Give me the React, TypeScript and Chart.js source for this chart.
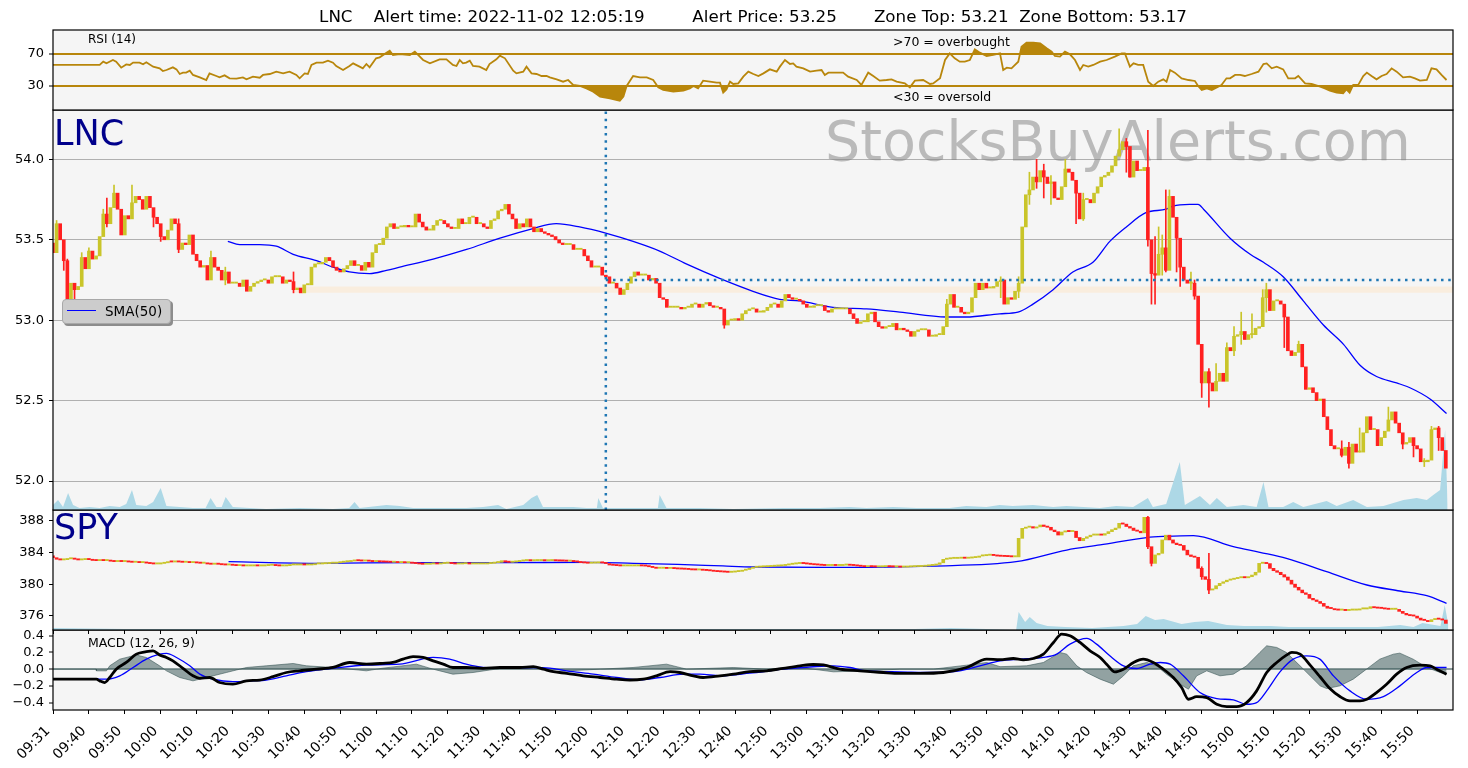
import React, { useEffect, useRef } from 'react';
import { Chart, registerables } from 'chart.js';

Chart.register(...registerables);

const FONT = "'DejaVu Sans', 'Liberation Sans', sans-serif";
Chart.defaults.font.family = FONT;
Chart.defaults.color = '#000';

// ---------------- data ----------------
const TITLE = 'LNC    Alert time: 2022-11-02 12:05:19         Alert Price: 53.25       Zone Top: 53.21  Zone Bottom: 53.17';
const X_MIN = 0;
const X_MAX = 390;
const tickBars = [0, 10, 20, 30, 40, 50, 60, 70, 80, 90, 100, 110, 120, 130, 140, 150, 160, 170, 180, 190, 200, 210, 220, 230, 240, 250, 260, 270, 280, 290, 300, 310, 320, 330, 340, 350, 360, 370, 380];
const tickLabels = ['09:31', '09:40', '09:50', '10:00', '10:10', '10:20', '10:30', '10:40', '10:50', '11:00', '11:10', '11:20', '11:30', '11:40', '11:50', '12:00', '12:10', '12:20', '12:30', '12:40', '12:50', '13:00', '13:10', '13:20', '13:30', '13:40', '13:50', '14:00', '14:10', '14:20', '14:30', '14:40', '14:50', '15:00', '15:10', '15:20', '15:30', '15:40', '15:50'];

const alertBar = 154;
const alertPrice = 53.25;
const zoneStartBar = 67;
const zoneTop = 53.21;
const zoneBottom = 53.17;

const lncOpen0 = 53.48;
const lncClose = [
  53.42, 53.60, 53.50, 53.37, 53.11, 53.23, 53.19, 53.21, 53.39, 53.32,
  53.43, 53.38, 53.40, 53.52, 53.66, 53.60, 53.70, 53.79, 53.69, 53.53,
  53.65, 53.63, 53.73, 53.77, 53.75, 53.69, 53.77, 53.70, 53.64, 53.60,
  53.52, 53.50, 53.56, 53.63, 53.60, 53.44, 53.48, 53.47, 53.53, 53.41,
  53.37, 53.33, 53.34, 53.25, 53.39, 53.33, 53.31, 53.25, 53.30, 53.23,
  53.23, 53.23, 53.21, 53.25, 53.18, 53.21, 53.23, 53.24, 53.25, 53.25,
  53.23, 53.27, 53.27, 53.27, 53.23, 53.25, 53.24, 53.19, 53.20, 53.17,
  53.22, 53.22, 53.33, 53.35, 53.35, 53.36, 53.39, 53.37, 53.33, 53.31,
  53.30, 53.32, 53.34, 53.37, 53.34, 53.34, 53.31, 53.36, 53.33, 53.42,
  53.47, 53.47, 53.51, 53.58, 53.60, 53.57, 53.58, 53.58, 53.59, 53.58,
  53.58, 53.66, 53.61, 53.58, 53.56, 53.56, 53.59, 53.62, 53.62, 53.60,
  53.58, 53.57, 53.57, 53.63, 53.60, 53.60, 53.64, 53.64, 53.60, 53.60,
  53.58, 53.57, 53.62, 53.63, 53.68, 53.69, 53.72, 53.66, 53.63, 53.57,
  53.60, 53.58, 53.63, 53.58, 53.55, 53.57, 53.55, 53.54, 53.53, 53.52,
  53.50, 53.48, 53.47, 53.47, 53.47, 53.44, 53.44, 53.44, 53.40, 53.37,
  53.33, 53.33, 53.33, 53.28, 53.27, 53.23, 53.23, 53.20, 53.16, 53.19,
  53.23, 53.27, 53.30, 53.28, 53.28, 53.28, 53.25, 53.26, 53.23, 53.14,
  53.13, 53.08, 53.08, 53.08, 53.08, 53.07, 53.08, 53.08, 53.10, 53.10,
  53.08, 53.10, 53.11, 53.09, 53.08, 53.08, 53.07, 52.97, 53.00, 53.00,
  53.01, 53.00, 53.04, 53.06, 53.07, 53.07, 53.05, 53.05, 53.06, 53.08,
  53.10, 53.10, 53.08, 53.12, 53.16, 53.14, 53.13, 53.13, 53.12, 53.10,
  53.08, 53.08, 53.09, 53.09, 53.09, 53.06, 53.05, 53.07, 53.07, 53.07,
  53.07, 53.07, 53.04, 53.01, 52.98, 52.99, 52.99, 53.04, 53.05, 52.99,
  52.96, 52.95, 52.96, 52.96, 52.98, 52.94, 52.95, 52.94, 52.93, 52.90,
  52.93, 52.94, 52.94, 52.94, 52.90, 52.90, 52.91, 52.91, 52.96, 53.10,
  53.16, 53.08, 53.08, 53.05, 53.04, 53.05, 53.14, 53.23, 53.19, 53.23,
  53.20, 53.20, 53.21, 53.24, 53.25, 53.10, 53.14, 53.13, 53.18, 53.23,
  53.58, 53.78, 53.81, 53.89, 53.86, 53.93, 53.89, 53.85, 53.86, 53.76,
  53.75, 53.83, 53.94, 53.92, 53.87, 53.79, 53.63, 53.75, 53.75, 53.73,
  53.79, 53.83, 53.89, 53.90, 53.92, 53.96, 54.02, 54.06, 54.11, 54.08,
  53.89, 53.99, 53.93, 53.93, 53.95, 53.50, 53.29, 53.28, 53.41, 53.45,
  53.31, 53.77, 53.64, 53.51, 53.33, 53.25, 53.23, 53.23, 53.15, 52.85,
  52.61, 52.68, 52.61, 52.56, 52.62, 52.67, 52.62, 52.83, 52.81, 52.90,
  52.91, 52.93, 52.88, 52.91, 52.91, 52.95, 52.96, 53.14, 53.19, 53.06,
  53.12, 53.12, 53.10, 53.02, 52.81, 52.78, 52.80, 52.85, 52.71, 52.57,
  52.58, 52.55, 52.50, 52.51, 52.40, 52.32, 52.22, 52.20, 52.20, 52.16,
  52.21, 52.11, 52.23, 52.18, 52.18, 52.30, 52.40, 52.32, 52.32, 52.22,
  52.27, 52.31, 52.38, 52.43, 52.36, 52.30, 52.23, 52.24, 52.27, 52.22,
  52.20, 52.12, 52.12, 52.13, 52.32, 52.33, 52.27, 52.19, 52.08,
];
// [bar, high, low]
const lncWicks = [
  [1, 53.62, 53.46], [3, 53.49, 53.31], [4, 53.38, 53.09], [6, 53.21, 53.13], [8, 53.42, 53.29], [10, 53.45, 53.33],
  [14, 53.69, 53.58], [15, 53.76, 53.58], [17, 53.84, 53.76], [22, 53.84, 53.68], [28, 53.66, 53.58], [30, 53.55, 53.49],
  [35, 53.63, 53.42], [44, 53.43, 53.28], [48, 53.33, 53.22], [67, 53.30, 53.17], [187, 53.06, 52.95], [249, 53.13, 52.99],
  [264, 53.27, 53.14], [269, 53.27, 53.14], [272, 53.92, 53.72], [274, 54.00, 53.82], [276, 53.97, 53.76], [278, 53.90, 53.72],
  [282, 54.00, 53.86], [285, 53.82, 53.60], [287, 53.79, 53.62], [297, 54.19, 54.04], [299, 54.13, 53.92], [300, 54.05, 53.89],
  [305, 54.18, 53.46], [306, 53.48, 53.10], [307, 53.52, 53.10], [308, 53.58, 53.40], [309, 53.53, 53.28], [310, 53.81, 53.30],
  [311, 53.81, 53.55], [313, 53.55, 53.30], [314, 53.49, 53.21], [317, 53.30, 53.19], [318, 53.25, 53.13], [320, 52.62, 52.52],
  [322, 52.70, 52.46], [324, 52.73, 52.58], [327, 52.86, 52.76], [329, 52.96, 52.78], [331, 53.05, 52.85], [334, 53.04, 52.89],
  [337, 53.19, 52.97], [338, 53.23, 53.05], [343, 53.05, 52.83], [347, 52.87, 52.82], [359, 52.25, 52.15], [361, 52.24, 52.08],
  [364, 52.33, 52.18], [372, 52.46, 52.38], [376, 52.27, 52.20], [379, 52.24, 52.15], [382, 52.14, 52.09], [384, 52.34, 52.28],
  [386, 52.34, 52.19],
];
const lncSma = [
  [48.7, 53.49], [52, 53.47], [57.6, 53.47], [62.2, 53.46], [66.9, 53.41], [73.4, 53.37], [78, 53.33], [82.6, 53.30],
  [88.2, 53.29], [92.9, 53.31], [96.6, 53.33], [105.9, 53.38], [115.2, 53.44], [124.5, 53.51], [133.7, 53.57], [140.2, 53.60],
  [146.7, 53.58], [154.2, 53.54], [161.6, 53.49], [169, 53.43], [176.4, 53.35], [185.7, 53.26], [195, 53.18], [202.4, 53.13],
  [208, 53.12], [217.3, 53.08], [226.6, 53.07], [235.9, 53.05], [248.9, 53.02], [254.4, 53.02], [263.7, 53.04], [268.8, 53.05],
  [273, 53.10], [278.6, 53.19], [284.1, 53.30], [289.7, 53.36], [294.4, 53.49], [299, 53.58], [304.6, 53.67], [310.1, 53.69],
  [312, 53.71], [316.6, 53.72], [319, 53.72], [320.5, 53.69], [327.9, 53.51], [333.5, 53.41], [337.2, 53.36], [342.7, 53.27],
  [348.3, 53.12], [353.9, 52.97], [359.5, 52.85], [364.1, 52.72], [368.7, 52.65], [374.3, 52.61], [378, 52.58], [383.6, 52.51],
  [388.2, 52.42],
];
// volume silhouette, relative units
const lncVol = [
  [0, 5], [1.4, 10], [2.8, 3], [4.2, 17], [5.6, 5], [7.4, 2], [10.2, 3], [13, 2], [15.8, 4], [18.6, 3], [20.4, 6], [22, 20],
  [23.2, 5], [26, 4], [27.9, 8], [30, 22], [31.6, 4], [35.3, 3], [39, 2], [42.5, 2], [43.9, 12], [45.5, 3], [47, 3], [48.1, 13],
  [50.1, 3], [59.4, 1], [68.7, 2], [78, 1], [82.5, 2], [84, 8], [85.4, 2], [92.9, 5], [96.6, 4], [100.3, 2], [105.9, 2],
  [115.2, 2], [119.8, 3], [124, 5], [126.3, 1], [131, 5], [133.3, 12], [134.9, 15], [136.5, 3], [144.9, 3], [148.6, 2],
  [151.5, 2], [151.9, 12], [153.2, 2], [161.6, 2], [168.5, 2], [169, 15], [170.9, 2], [180.2, 2], [189.5, 1], [203.4, 2],
  [208, 2], [213.6, 2], [221.9, 3], [226.6, 2], [234, 3], [240.5, 2], [249.8, 2], [254.4, 4], [260, 3], [263.7, 5], [267.4, 4],
  [273, 5], [278.6, 3], [282.3, 4], [287, 3], [291.6, 2], [296.2, 4], [300.9, 3], [305, 12], [306.4, 3], [310.1, 6], [313.9, 48],
  [315.3, 5], [319.5, 14], [322.3, 5], [324.2, 12], [327, 3], [331.6, 5], [335.3, 3], [337.2, 28], [338.6, 3], [342.7, 3],
  [345.5, 8], [348.3, 3], [354.8, 9], [357.6, 4], [362.2, 10], [366, 3], [370.6, 4], [376.2, 10], [379.9, 12], [382.7, 10],
  [384.5, 15], [386.4, 20], [387.8, 80], [388.5, 5],
];

const spyOpen0 = 383.6;
const spyClose = [
  383.35, 383.15, 383.06, 383.10, 383.20, 383.27, 383.15, 383.06, 383.10, 383.14,
  383.10, 383.00, 382.97, 383.05, 382.97, 382.97, 382.90, 382.85, 382.88, 382.85,
  382.85, 382.80, 382.76, 382.78, 382.72, 382.72, 382.66, 382.60, 382.55, 382.55,
  382.62, 382.70, 382.85, 382.80, 382.85, 382.80, 382.76, 382.76, 382.72, 382.72,
  382.68, 382.64, 382.64, 382.55, 382.51, 382.55, 382.51, 382.45, 382.42, 382.42,
  382.38, 382.34, 382.34, 382.30, 382.30, 382.30, 382.32, 382.30, 382.30, 382.34,
  382.38, 382.38, 382.34, 382.30, 382.30, 382.34, 382.42, 382.42, 382.42, 382.45,
  382.42, 382.42, 382.45, 382.55, 382.55, 382.58, 382.60, 382.64, 382.64, 382.70,
  382.76, 382.82, 382.85, 382.92, 382.97, 382.95, 382.92, 382.92, 382.90, 382.85,
  382.85, 382.82, 382.80, 382.78, 382.76, 382.76, 382.72, 382.72, 382.70, 382.70,
  382.64, 382.60, 382.55, 382.51, 382.51, 382.55, 382.58, 382.55, 382.60, 382.64,
  382.64, 382.60, 382.55, 382.55, 382.58, 382.60, 382.55, 382.55, 382.55, 382.55,
  382.55, 382.60, 382.64, 382.72, 382.76, 382.97, 382.80, 382.76, 382.80, 382.85,
  382.92, 382.97, 382.97, 382.95, 382.97, 382.97, 382.97, 382.95, 382.97, 382.97,
  382.95, 382.93, 382.92, 382.90, 382.90, 382.85, 382.80, 382.72, 382.68, 382.64,
  382.66, 382.68, 382.70, 382.68, 382.60, 382.42, 382.38, 382.34, 382.30, 382.30,
  382.30, 382.30, 382.30, 382.32, 382.30, 382.28, 382.20, 382.10, 382.00, 382.00,
  382.00, 381.98, 382.00, 381.96, 381.92, 381.90, 381.88, 381.85, 381.80, 381.79,
  381.79, 381.75, 381.72, 381.68, 381.62, 381.58, 381.55, 381.52, 381.49, 381.52,
  381.58, 381.62, 381.75, 381.85, 382.00, 382.12, 382.15, 382.18, 382.20, 382.22,
  382.25, 382.28, 382.30, 382.35, 382.42, 382.50, 382.55, 382.60, 382.63, 382.60,
  382.55, 382.50, 382.45, 382.42, 382.38, 382.35, 382.35, 382.38, 382.35, 382.35,
  382.40, 382.42, 382.38, 382.35, 382.30, 382.25, 382.20, 382.22, 382.20, 382.18,
  382.18, 382.20, 382.22, 382.20, 382.18, 382.18, 382.15, 382.15, 382.18, 382.20,
  382.22, 382.22, 382.25, 382.30, 382.35, 382.40, 382.50, 382.70, 383.14, 383.20,
  383.25, 383.25, 383.27, 383.30, 383.27, 383.30, 383.35, 383.40, 383.56, 383.60,
  383.65, 383.68, 383.62, 383.55, 383.52, 383.50, 383.48, 383.45, 383.45, 385.80,
  387.07, 387.20, 387.28, 387.10, 387.25, 387.49, 387.30, 387.20, 386.85, 386.64,
  386.22, 386.60, 386.75, 386.65, 386.70, 385.90, 385.50, 385.80, 386.00, 386.20,
  386.20, 386.25, 386.20, 386.40, 386.65, 386.90, 387.10, 387.70, 387.60, 387.30,
  387.10, 386.80, 386.70, 386.50, 388.46, 384.74, 382.63, 383.70, 383.90, 385.60,
  386.20, 385.60, 385.20, 385.00, 384.90, 384.30, 383.70, 383.50, 383.40, 382.00,
  380.94, 380.60, 379.25, 379.40, 379.80, 380.10, 380.30, 380.50, 380.60, 380.70,
  380.80, 380.94, 380.80, 380.94, 381.15, 381.50, 382.63, 382.70, 382.60, 382.00,
  381.70, 381.50, 381.20, 380.90, 380.50, 380.00, 379.60, 379.25, 378.90, 378.70,
  378.20, 378.00, 377.80, 377.56, 377.20, 376.95, 376.90, 376.75, 376.70, 376.70,
  376.65, 376.70, 376.70, 376.72, 376.85, 376.85, 376.92, 377.14, 377.00, 376.95,
  376.92, 376.85, 376.80, 376.80, 376.80, 376.55, 376.30, 376.10, 376.00, 375.95,
  375.70, 375.45, 375.40, 375.25, 375.50, 375.60, 375.55, 375.45, 375.03,
];
const spyWicks = [[305, 388.6, 384.5], [306, 384.0, 382.3], [320, 382.2, 380.6], [322, 383.9, 378.8]];
const spySma = [
  [48.9, 382.85], [74.6, 382.64], [99.5, 382.72], [124.4, 382.72], [149.3, 382.76], [161.7, 382.64], [174, 382.51],
  [186.6, 382.30], [195, 382.17], [219.8, 382.12], [244.7, 382.29], [268.3, 382.84], [282.4, 384.32], [291.7, 384.96],
  [304.7, 385.9], [310, 386.05], [317.7, 386.14], [328.8, 384.75], [336.2, 384.03], [343.6, 383.27], [354.8, 381.58],
  [366, 379.89], [375.2, 379.13], [382.7, 378.53], [388.2, 377.56],
];
const spyVol = [
  [0, 2], [20, 1], [60, 1], [100, 1], [150, 1], [200, 1], [240, 1], [250, 2], [260, 1], [268.3, 0], [269, 18], [270.8, 8],
  [272.1, 13], [274, 7], [277, 4], [282, 3], [289.5, 2], [298.2, 4], [302, 6], [304.4, 14], [307, 10], [309.4, 11], [314.4, 6],
  [318, 8], [321.8, 9], [327, 5], [331.8, 4], [339.2, 4], [344.2, 3], [356.6, 3], [369.1, 3], [375.3, 5], [379, 3], [381.5, 7],
  [386.5, 4], [387.7, 25], [388.7, 5],
];

const rsiPts = [
  [0, 56.3], [13, 56.3], [14, 60.4], [14.9, 58.3], [16.7, 62.5], [17.6, 60.4], [19, 52.9], [20.4, 57], [21.4, 56.3], [22.3, 59.2],
  [24.1, 59.2], [25.1, 57.1], [26, 59.6], [27.9, 54.2], [29.7, 52.1], [30.6, 48.7], [31.6, 50], [33.4, 53.3], [34.4, 50.8],
  [35.3, 45], [36.2, 46.7], [37.1, 46.7], [38.1, 49.2], [39, 43.8], [40.9, 40.8], [42.7, 37.5], [43.6, 45.8], [45.5, 42.5],
  [46.4, 40.8], [47.8, 43.3], [49.2, 39.6], [51.1, 39.2], [52.9, 40.8], [53.9, 38.3], [55.7, 41.7], [57.6, 40.4], [58.5, 43.8],
  [60.4, 45], [62.2, 47.9], [64.1, 45.8], [65.9, 47.9], [67.8, 43.8], [68.7, 39.6], [70.1, 45.8], [71, 45], [72, 56.3],
  [73.4, 59.2], [75.2, 59.2], [76.6, 61.7], [78, 59.2], [78.9, 55], [80.8, 50], [82.6, 55], [83.6, 58.3], [85.4, 54.2],
  [86.3, 52.1], [87.3, 57.5], [88.2, 53.3], [90, 64.6], [91, 65.8], [92.9, 71.7], [93.8, 74.2], [94.7, 68.8], [96.6, 70],
  [99.4, 68.8], [100.8, 72.9], [103.1, 62.5], [105, 58.3], [107.7, 63.3], [109.6, 63.3], [111.4, 56.3], [112.4, 55],
  [113.3, 62.5], [114.2, 58.3], [115.1, 59.2], [116.1, 61.7], [117, 55], [118.8, 54.2], [120.7, 50], [121.6, 57.5],
  [123.5, 63.3], [124.5, 68], [125.9, 64.6], [128.2, 49.2], [129.1, 45.8], [131, 47.9], [131.9, 54.2], [133.3, 45.8],
  [134.7, 45], [136.1, 42.5], [137.5, 42.5], [138.4, 40.8], [140.3, 38.3], [142.1, 35.4], [143.5, 37.5], [144.9, 31.3],
  [146.8, 30], [148.6, 27], [150.5, 22.9], [152.4, 16.7], [155.1, 14.6], [157.9, 11.7], [158.9, 16.7], [159.8, 30],
  [161.6, 42.5], [163.5, 40.8], [165.4, 40.8], [167.2, 37.5], [168.6, 28.3], [170, 25], [172.8, 22.9], [175.6, 24.2],
  [177.4, 27], [178.4, 30], [179.7, 27], [181.1, 36.7], [183, 35.4], [184.9, 34.2], [185.8, 34.2], [186.7, 21.7], [187.6, 25.8],
  [188.6, 35.4], [189.5, 32.5], [190.9, 33.3], [192.3, 41.7], [193.7, 47.9], [195.1, 45], [196.5, 42.5], [197.9, 45.8],
  [199.7, 50.8], [201.6, 47.9], [202.5, 54.2], [203.9, 62.5], [205.3, 57.5], [206.2, 58.3], [207.1, 54.2], [209, 52.1],
  [210.9, 47.9], [212.7, 49.2], [214.1, 50], [215, 43.8], [216, 46.7], [217.4, 46.7], [220.1, 46.7], [221.5, 41.7],
  [223.9, 37.5], [225.2, 31.3], [227.1, 46.7], [228.5, 42.5], [230.3, 36.7], [232.2, 37.5], [233.6, 38.3], [235, 35.4],
  [237.3, 33.3], [238.7, 28.3], [240.1, 36.7], [242.4, 37.5], [244.3, 32.5], [245.2, 33.3], [247.1, 39.6], [248.5, 62.5],
  [249.8, 70.8], [251.2, 64.6], [252.6, 60.4], [254, 60.4], [255.4, 62.5], [256.8, 75.8], [258.2, 71.7], [260.1, 67.5],
  [261.9, 68.8], [263.8, 70.8], [264.7, 50], [265.7, 52.9], [267, 52.1], [268.9, 60.4], [269.8, 79.2], [271.2, 84.2],
  [273.1, 84.2], [275, 83.3], [276.8, 77.1], [278.2, 72.9], [279.1, 67.5], [280.5, 66.7], [281.9, 72.9], [283.3, 69.6],
  [284.7, 62.5], [286.1, 50], [287, 56.3], [288.4, 54.2], [289.8, 56.3], [291.7, 60.4], [293.5, 62.5], [295.8, 66.7],
  [297.7, 70.8], [298.6, 70.8], [300, 54.2], [301, 58.3], [302.3, 56.3], [303.7, 56.3], [305.1, 35.4], [306.5, 30],
  [307.9, 35.4], [309.3, 38.3], [310.2, 35.4], [311.2, 50], [312.5, 46.7], [314.4, 39.6], [316.3, 37.5], [318.1, 36.3],
  [319, 30], [320, 25], [321.4, 27], [322.8, 25], [324.2, 28.3], [325.5, 31.3], [326.9, 39.6], [327.9, 39.6], [329.3, 43.8],
  [330.7, 43.8], [332, 42.5], [333.9, 45], [335.8, 47.9], [337.2, 57.5], [338.1, 58.3], [339.5, 52.1], [340.9, 54.2],
  [342.7, 50.8], [344.1, 39.6], [346, 39.6], [346.9, 42.5], [348.8, 33.3], [350.6, 32.5], [353, 29.2], [354.3, 27],
  [355.7, 24.2], [357.6, 21.7], [359.4, 20.8], [360.3, 25.8], [361.2, 21.7], [362.2, 31.3], [363.6, 31.3], [365, 42.5],
  [366, 46.7], [367.3, 42.5], [368.7, 38.3], [370.1, 42.5], [371.5, 45], [372.9, 52.1], [374.3, 47.9], [376.1, 40.8],
  [378, 41.7], [379.4, 39.6], [380.8, 36.7], [382.7, 37.5], [384, 52.1], [385.4, 50.8], [386.8, 43.8], [388.2, 37.5],
];

const macdPts = [
  [0, -0.12], [12.1, -0.12], [13, -0.14], [14.4, -0.16], [15.8, -0.10], [17.6, 0], [20.4, 0.08], [23.2, 0.18], [26, 0.21],
  [27.9, 0.22], [29.7, 0.17], [31.6, 0.14], [33.4, 0.10], [36.2, 0.01], [39, -0.08], [40.9, -0.11], [43.6, -0.10],
  [46.4, -0.16], [50.1, -0.18], [53.9, -0.14], [57.6, -0.13], [61.3, -0.09], [65, -0.04], [68.7, -0.02], [73.4, 0],
  [78, 0.02], [82.6, 0.08], [87.3, 0.06], [91.9, 0.07], [94.7, 0.08], [97.5, 0.12], [100.3, 0.15], [103.1, 0.14],
  [105.9, 0.10], [108.7, 0.06], [111.4, 0.02], [115.1, 0.02], [119.8, 0.01], [124.5, 0.02], [130.1, 0.02], [133.8, 0.03],
  [136.6, 0], [139.4, -0.03], [143.1, -0.05], [147.7, -0.08], [152.4, -0.10], [157, -0.12], [160.7, -0.13], [164.4, -0.12],
  [168.1, -0.08], [171.9, -0.03], [174.6, -0.04], [178.4, -0.08], [181.1, -0.10], [185.8, -0.08], [189.5, -0.06],
  [194.1, -0.03], [198.8, -0.02], [203.4, 0.01], [208.1, 0.04], [211.8, 0.056], [214.6, 0.05], [219.2, 0], [224.8, -0.02],
  [231.3, -0.04], [235.9, -0.05], [241.5, -0.05], [248, -0.04], [254.5, 0.02], [260.1, 0.12], [263.8, 0.115], [267.5, 0.128],
  [270.3, 0.112], [273.1, 0.128], [275.9, 0.18], [278.7, 0.32], [281, 0.42], [283.3, 0.40], [286.1, 0.32], [288.9, 0.22],
  [291.7, 0.14], [293.5, 0.06], [295.8, -0.032], [298.2, 0], [301, 0.08], [303.7, 0.12], [306.5, 0.08], [309.3, 0],
  [312.1, -0.10], [314.4, -0.22], [316.3, -0.36], [318.6, -0.33], [321.4, -0.34], [324.2, -0.42], [327, -0.448],
  [329.7, -0.448], [332.5, -0.40], [335.3, -0.26], [338.1, -0.04], [340.9, 0.08], [343.6, 0.168], [345.1, 0.20],
  [347.4, 0.18], [350.2, 0.048], [352.9, -0.088], [355.7, -0.232], [358.5, -0.328], [361.3, -0.38], [364.1, -0.38],
  [366, -0.36], [368.7, -0.28], [371.5, -0.18], [374.3, -0.06], [377.1, 0.02], [380.8, 0.048], [383.6, 0.04], [385.4, 0],
  [388.2, -0.06],
];
const signalPts = [
  [0, -0.12], [14.9, -0.12], [18.6, -0.08], [22.3, 0.02], [26, 0.12], [29.7, 0.18], [31.6, 0.19], [34.4, 0.14], [38.1, 0.04],
  [40.9, -0.06], [44.6, -0.12], [50.1, -0.15], [55.7, -0.14], [59.4, -0.13], [65, -0.08], [70.6, -0.03], [78, 0.01],
  [87.3, 0.05], [96.6, 0.06], [105.9, 0.14], [110.5, 0.12], [115.1, 0.06], [119.8, 0.02], [124.5, 0.012], [133.8, 0.02],
  [138.4, 0.012], [143.1, -0.02], [150.5, -0.06], [157, -0.10], [163.5, -0.128], [169.1, -0.10], [175.6, -0.06],
  [180.2, -0.06], [185.8, -0.08], [194.1, -0.048], [203.4, 0], [212.7, 0.032], [217.4, 0.04], [222, 0.02], [226.6, -0.02],
  [235.9, -0.032], [245.2, -0.04], [252.6, -0.02], [258.2, 0.04], [263.8, 0.1], [269.4, 0.12], [275.9, 0.14], [279.6, 0.18],
  [283.3, 0.30], [288, 0.368], [290.7, 0.30], [294.4, 0.16], [298.2, 0.04], [301.9, 0.008], [305.6, 0.06], [308.4, 0.08],
  [311.2, 0.06], [314.9, -0.08], [319.5, -0.28], [324.2, -0.352], [328.8, -0.368], [332.5, -0.42], [335.3, -0.40],
  [338.1, -0.26], [341.8, -0.032], [345.5, 0.12], [349.2, 0.16], [352.9, 0.12], [356.7, -0.08], [361.3, -0.26],
  [365.9, -0.36], [370.6, -0.328], [375.2, -0.20], [379.9, -0.04], [382.7, 0.02], [388.2, 0.02],
];
const histPts = [
  [0, 0], [12, 0], [12.1, -0.02], [14.9, -0.02], [15.8, 0.04], [18.6, 0.12], [23.2, 0.17], [26, 0.14], [29.7, 0.04],
  [31.6, -0.02], [35.3, -0.10], [39, -0.14], [42.7, -0.10], [48.3, -0.04], [53.9, 0.02], [59.4, 0.04], [66.9, 0.068],
  [70.6, 0.04], [78, 0.02], [87.3, -0.02], [91.9, 0.012], [101.2, 0.06], [105.9, 0], [111.4, -0.06], [117, -0.04],
  [124.5, 0.008], [133.8, 0.024], [143.1, -0.02], [152.4, 0], [161.6, 0.02], [170.9, 0.06], [176.5, 0], [189.5, 0.02],
  [198.8, 0], [208.1, 0.02], [217.4, -0.032], [226.6, -0.02], [235.9, 0], [245.2, 0], [254.5, 0.048], [260.1, 0.08],
  [263.8, 0.03], [271.2, 0.04], [275.9, 0.08], [280.5, 0.20], [282.4, 0.18], [285.2, 0.04], [287.9, -0.04], [291.7, -0.12],
  [295.4, -0.18], [298.2, -0.08], [300.9, 0.04], [304.7, 0.08], [307.4, 0.04], [310.2, -0.06], [314, -0.18], [316.3, -0.24],
  [318.6, -0.08], [321.4, -0.02], [325.1, -0.08], [328.8, -0.06], [332.5, 0.04], [336.2, 0.20], [338.1, 0.28], [340.9, 0.26],
  [343.6, 0.20], [347.4, 0.04], [350.2, -0.08], [353, -0.20], [354.8, -0.232], [358.5, -0.20], [362.2, -0.12], [365.9, 0],
  [369.6, 0.12], [373.4, 0.18], [375.2, 0.192], [378.9, 0.12], [382.7, 0.02], [386.4, -0.04], [388.2, -0.06],
];

const rsiTicks = [30, 70];
const lncTicks = [52, 52.5, 53, 53.5, 54];
const spyTicks = [376, 380, 384, 388];
const macdTicks = [-0.4, -0.2, 0, 0.2, 0.4];

// ---------------- style ----------------
const UP = '#c9c52a';
const DOWN = '#ff2020';
const VOL = '#add8e6';
const GOLD = '#b8860b';
const ALERT = '#1f77b4';
const W = 1468;
const RANGE = {
  rsi: [0, 100],
  lnc: [51.82, 54.307],
  spy: [374.19, 389.39],
  macd: [-0.489, 0.469],
};

const pts = (arr: number[][]) => arr.map((p) => ({ x: p[0], y: p[1] }));

function candleSets(open0: number, closes: number[], wicks: number[][], thick: number, minLen: number) {
  const opens = closes.map((c, i) => (i === 0 ? open0 : closes[i - 1]));
  const col = closes.map((c, i) => (c >= opens[i] ? UP : DOWN));
  return [
    {
      type: 'bar', data: wicks.map((w) => ({ x: w[0], y: [w[2], w[1]] })), backgroundColor: wicks.map((w) => col[w[0]]),
      barThickness: 1, grouped: false, order: 6, yAxisID: 'y',
    },
    {
      type: 'bar', data: closes.map((c, i) => ({ x: i, y: [opens[i], c] })), backgroundColor: col,
      barThickness: thick, minBarLength: minLen, grouped: false, order: 5, yAxisID: 'y',
    },
  ];
}

const panel = {
  id: 'panel',
  beforeDraw(chart: any) {
    const { ctx, chartArea: a } = chart;
    ctx.save();
    ctx.fillStyle = '#f5f5f5';
    ctx.fillRect(a.left, a.top, a.right - a.left, a.bottom - a.top);
    ctx.restore();
  },
  afterDraw(chart: any) {
    const { ctx, chartArea: a } = chart;
    ctx.save();
    ctx.strokeStyle = '#000';
    ctx.lineWidth = 1.2;
    ctx.strokeRect(a.left, a.top, a.right - a.left, a.bottom - a.top);
    ctx.restore();
  },
};

const watermark = {
  id: 'wm',
  beforeDatasetsDraw(chart: any) {
    const { ctx } = chart;
    ctx.save();
    ctx.font = `55.5px ${FONT}`;
    ctx.fillStyle = 'rgba(128,128,128,0.5)';
    ctx.textBaseline = 'alphabetic';
    ctx.fillText('StocksBuyAlerts.com', 825, 55);
    ctx.restore();
  },
};

function yAxis(range: number[], ticks: number[], fmt: (v: number) => string, gridColor?: string, gridWidth = 1) {
  return {
    position: 'left',
    min: range[0],
    max: range[1],
    afterBuildTicks: (s: any) => { s.ticks = ticks.map((v) => ({ value: v })); },
    afterFit: (s: any) => { s.width = 53; s.paddingTop = 0; s.paddingBottom = 0; },
    ticks: { font: { size: 13, family: FONT }, color: '#000', padding: 5, callback: (v: number) => fmt(v) },
    grid: {
      drawOnChartArea: !!gridColor, color: gridColor || 'transparent', lineWidth: gridWidth,
      drawTicks: true, tickLength: 4, tickColor: '#000', tickWidth: 1,
    },
    border: { display: false },
  };
}

function xAxis(kind: 'none' | 'marks' | 'labels') {
  const base: any = { type: 'linear', min: X_MIN, max: X_MAX, offset: false };
  if (kind === 'none') return { ...base, display: false, grid: { offset: false } };
  return {
    ...base,
    afterBuildTicks: (s: any) => { s.ticks = tickBars.map((v) => ({ value: v })); },
    afterFit: (s: any) => { s.height = kind === 'labels' ? 58 : 5; s.paddingLeft = 0; s.paddingRight = 0; },
    ticks: {
      display: kind === 'labels', autoSkip: false, minRotation: 45, maxRotation: 45, padding: 9, labelOffset: -5,
      font: { size: 13.9, family: FONT }, color: '#000',
      callback: (_v: number, i: number) => tickLabels[i],
    },
    grid: { offset: false, drawOnChartArea: false, drawTicks: true, tickLength: 4, tickColor: '#000', tickWidth: 1 },
    border: { display: false },
  };
}

function baseOptions(scales: any, pad: any) {
  return {
    responsive: false,
    animation: false,
    devicePixelRatio: 1,
    events: [],
    layout: { padding: pad },
    plugins: { legend: { display: false }, tooltip: { enabled: false } },
    elements: { point: { radius: 0 }, line: { tension: 0 } },
    scales,
  };
}

const fmt1 = (v: number) => v.toFixed(1);
const fmt0 = (v: number) => String(Math.round(v));
const fmtMacd = (v: number) => (v < 0 ? '\u2212' + Math.abs(v).toFixed(1) : v.toFixed(1));

function rsiConfig(): any {
  return {
    type: 'line',
    data: {
      datasets: [
        {
          data: pts(rsiPts), borderColor: GOLD, borderWidth: 1.8, pointRadius: 0,
          fill: { target: { value: 70 }, above: GOLD, below: 'rgba(0,0,0,0)' }, order: 1,
        },
        {
          data: pts(rsiPts), borderColor: 'rgba(0,0,0,0)', borderWidth: 0, pointRadius: 0,
          fill: { target: { value: 30 }, above: 'rgba(0,0,0,0)', below: GOLD }, order: 2,
        },
      ],
    },
    options: baseOptions({ x: xAxis('none'), y: yAxis(RANGE.rsi, rsiTicks, fmt0, GOLD, 2) }, { left: 0, right: 15, top: 5, bottom: 5 }),
    plugins: [panel],
  };
}

function lncConfig(): any {
  return {
    type: 'bar',
    data: {
      datasets: [
        {
          type: 'line', data: pts(lncVol), yAxisID: 'yv', borderWidth: 0, borderColor: VOL, backgroundColor: VOL,
          fill: 'origin', pointRadius: 0, order: 20,
        },
        {
          type: 'line', data: [{ x: zoneStartBar, y: zoneTop }, { x: X_MAX, y: zoneTop }], yAxisID: 'y',
          borderWidth: 0, borderColor: 'rgba(0,0,0,0)', backgroundColor: 'rgba(255,228,196,0.45)',
          fill: { target: { value: zoneBottom } }, pointRadius: 0, order: 15,
        },
        {
          type: 'line', data: pts(lncSma), yAxisID: 'y', borderColor: '#0000ff', borderWidth: 1.3, pointRadius: 0,
          fill: false, order: 8, cubicInterpolationMode: 'monotone',
        },
        ...candleSets(lncOpen0, lncClose, lncWicks, 3, 1.2),
        {
          type: 'line', data: [{ x: alertBar, y: alertPrice }, { x: X_MAX, y: alertPrice }], yAxisID: 'y',
          borderColor: ALERT, borderWidth: 2.5, borderDash: [2.5, 4.7], pointRadius: 0, fill: false, order: 1,
        },
        {
          type: 'line', data: [{ x: alertBar, y: RANGE.lnc[0] }, { x: alertBar, y: RANGE.lnc[1] }], yAxisID: 'y',
          borderColor: ALERT, borderWidth: 2.5, borderDash: [2.5, 4.7], pointRadius: 0, fill: false, order: 1,
        },
      ],
    },
    options: baseOptions({
      x: xAxis('none'),
      y: yAxis(RANGE.lnc, lncTicks, fmt1, '#b0b0b0', 1),
      yv: { display: false, min: 0, max: 400 },
    }, { left: 0, right: 15, top: 5, bottom: 5 }),
    plugins: [panel, watermark],
  };
}

function spyConfig(): any {
  return {
    type: 'bar',
    data: {
      datasets: [
        {
          type: 'line', data: pts(spyVol), yAxisID: 'yv', borderWidth: 0, borderColor: VOL, backgroundColor: VOL,
          fill: 'origin', pointRadius: 0, order: 20,
        },
        {
          type: 'line', data: pts(spySma), yAxisID: 'y', borderColor: '#0000ff', borderWidth: 1.3, pointRadius: 0,
          fill: false, order: 8, cubicInterpolationMode: 'monotone',
        },
        ...candleSets(spyOpen0, spyClose, spyWicks, 3, 1.2),
      ],
    },
    options: baseOptions({
      x: xAxis('marks'),
      y: yAxis(RANGE.spy, spyTicks, fmt0),
      yv: { display: false, min: 0, max: 120 },
    }, { left: 0, right: 15, top: 5, bottom: 0 }),
    plugins: [panel],
  };
}

function macdConfig(): any {
  const y: any = yAxis(RANGE.macd, macdTicks, fmtMacd, 'rgba(47,79,79,0.55)', 2);
  y.grid.color = (c: any) => (c.tick && c.tick.value === 0 ? 'rgba(47,79,79,0.55)' : 'rgba(0,0,0,0)');
  return {
    type: 'line',
    data: {
      datasets: [
        {
          data: pts(histPts), borderColor: 'rgba(47,79,79,0.55)', borderWidth: 1, backgroundColor: 'rgba(47,79,79,0.5)',
          fill: 'origin', pointRadius: 0, order: 3,
        },
        {
          data: pts(signalPts), borderColor: '#0000ff', borderWidth: 1.3, pointRadius: 0, fill: false, order: 2,
          cubicInterpolationMode: 'monotone',
        },
        {
          data: pts(macdPts), borderColor: '#000', borderWidth: 2.8, pointRadius: 0, fill: false, order: 1,
          cubicInterpolationMode: 'monotone',
        },
      ],
    },
    options: baseOptions({ x: xAxis('labels'), y }, { left: 0, right: 15, top: 5, bottom: 0 }),
    plugins: [panel],
  };
}

function Txt(props: { x: number; y: number; size: number; color?: string; align?: string; children: any }) {
  const { x, y, size, color = '#000', align = 'left', children } = props;
  const style: any = {
    position: 'absolute', top: y - 0.846 * size, fontSize: size, lineHeight: `${size}px`, fontFamily: FONT, color,
    whiteSpace: 'pre',
  };
  if (align === 'center') { style.left = x - 700; style.width = 1400; style.textAlign = 'center'; } else { style.left = x; }
  return <div style={style}>{children}</div>;
}

export default function App() {
  const rsiRef = useRef<HTMLCanvasElement>(null);
  const lncRef = useRef<HTMLCanvasElement>(null);
  const spyRef = useRef<HTMLCanvasElement>(null);
  const macdRef = useRef<HTMLCanvasElement>(null);

  useEffect(() => {
    const charts = [
      new Chart(macdRef.current as HTMLCanvasElement, macdConfig()),
      new Chart(spyRef.current as HTMLCanvasElement, spyConfig()),
      new Chart(lncRef.current as HTMLCanvasElement, lncConfig()),
      new Chart(rsiRef.current as HTMLCanvasElement, rsiConfig()),
    ];
    return () => charts.forEach((c) => c.destroy());
  }, []);

  const cv = (top: number, h: number): any => ({ position: 'absolute', left: 0, top, width: W, height: h });

  return (
    <div style={{ position: 'absolute', left: 0, top: 0, width: W, height: 768, background: '#fff', overflow: 'hidden', fontFamily: FONT }}>
      <canvas ref={macdRef} width={W} height={143} style={cv(625, 143)} />
      <canvas ref={spyRef} width={W} height={130} style={cv(505, 130)} />
      <canvas ref={lncRef} width={W} height={410} style={cv(105, 410)} />
      <canvas ref={rsiRef} width={W} height={90} style={cv(25, 90)} />

      <Txt x={753} y={22} size={16.7} align="center">{TITLE}</Txt>
      <Txt x={88} y={43.5} size={12}>RSI (14)</Txt>
      <Txt x={893} y={47} size={12.5}>{'>70 = overbought'}</Txt>
      <Txt x={893} y={102} size={12.5}>{'<30 = oversold'}</Txt>
      <Txt x={54} y={146} size={35} color="#00008b">LNC</Txt>
      <Txt x={54} y={540} size={35} color="#00008b">SPY</Txt>
      <Txt x={88} y={648} size={12.5}>MACD (12, 26, 9)</Txt>

      <div style={{
        position: 'absolute', left: 62, top: 299, width: 109, height: 25, background: '#cccccc',
        border: '1px solid #a8a8a8', borderRadius: 4, boxShadow: '2px 2px 0 0 #8c8c8c', boxSizing: 'border-box',
      }}>
        <div style={{ position: 'absolute', left: 4, top: 10, width: 29, height: 0, borderTop: '1.3px solid #0000ff' }} />
        <Txt x={42} y={16} size={13.5}>SMA(50)</Txt>
      </div>
    </div>
  );
}
